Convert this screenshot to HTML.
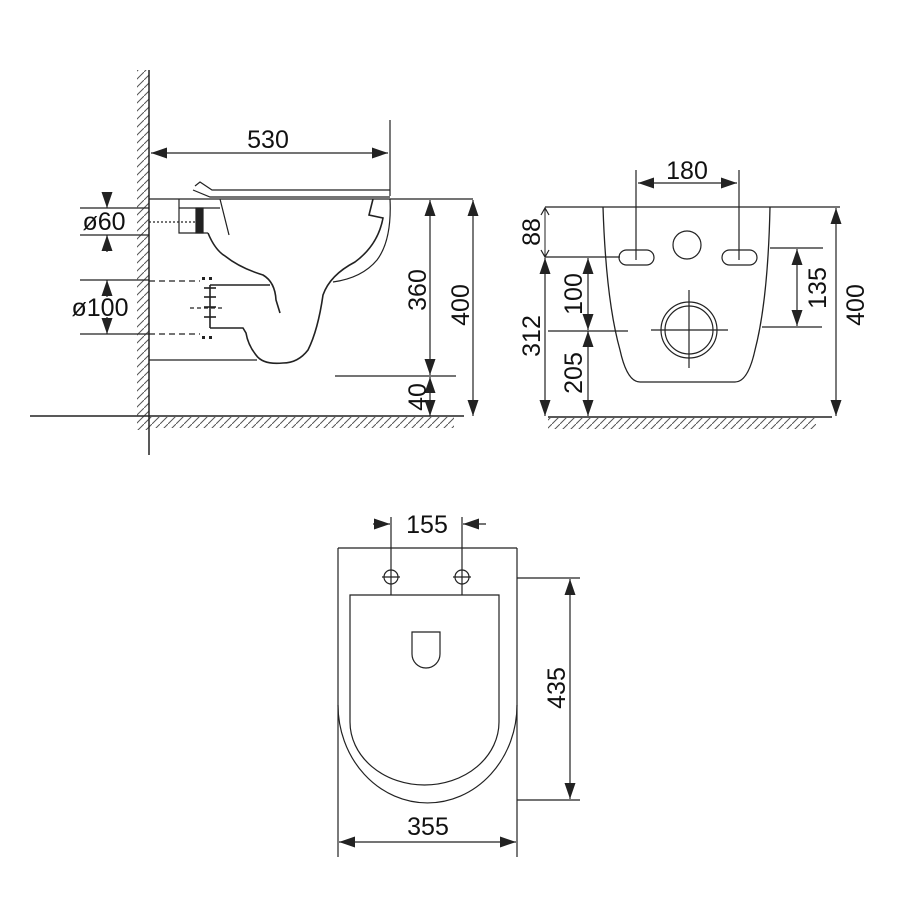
<!DOCTYPE html>
<html><head><meta charset="utf-8"><style>
html,body{margin:0;padding:0;background:#fff;}
svg{display:block;}
text{font-family:"Liberation Sans",Arial,sans-serif;font-size:25px;fill:#111;}
</style></head><body>
<svg width="900" height="900" viewBox="0 0 900 900" xmlns="http://www.w3.org/2000/svg">
<defs>
<marker id="a" viewBox="0 0 16 11" refX="16" refY="5.5" markerWidth="16" markerHeight="11" markerUnits="userSpaceOnUse" orient="auto-start-reverse"><path d="M0,0 L16,5.5 L0,11 Z" fill="#222"/></marker>
<pattern id="hw" width="8" height="8" patternUnits="userSpaceOnUse"><path d="M0,8 L8,0" stroke="#555" stroke-width="1"/></pattern>
</defs>
<g stroke="#222" fill="none" stroke-width="1.2">
<!-- SIDE VIEW -->
<rect x="137" y="70" width="12" height="360" fill="url(#hw)" stroke="none"/>
<rect x="149" y="417" width="305" height="11" fill="url(#hw)" stroke="none"/>
<line x1="149" y1="70" x2="149" y2="455" stroke-width="1.5"/>
<line x1="30" y1="416" x2="464" y2="416" stroke-width="1.5"/>
<line x1="390" y1="120" x2="390" y2="196"/>
<line x1="151" y1="153" x2="388" y2="153" marker-start="url(#a)" marker-end="url(#a)"/>
<path d="M195,186 L200,182 L212,190 L390,190"/>
<path d="M193,190 L210,197 L390,197"/>
<line x1="149" y1="199" x2="473" y2="199"/>
<path d="M179,199 L179,233 L208,233"/>
<rect x="196" y="208" width="7" height="25" fill="#222"/>
<line x1="179" y1="208" x2="220" y2="208"/>
<path d="M220,199 L229,235"/>
<line x1="149" y1="222" x2="195" y2="222" stroke-dasharray="2,2"/>
<path d="M208,233 Q215,250 225,256 Q240,268 263,275 Q275,282 276,300 L280,313" stroke-width="1.6"/>
<path d="M373,199 L369,215 L383,218 Q378,245 355,262 Q330,275 323,295 Q318,330 308,350 Q298,363 283,363 Q263,365 256,355 Q248,345 246,333 L243,328 L210,328" stroke-width="1.6"/>
<path d="M390,199 Q392,240 377,260 Q362,278 333,282"/>
<line x1="210" y1="285" x2="270" y2="285" stroke-width="1.4"/>
<line x1="210" y1="285" x2="210" y2="328" stroke-width="1.6"/>
<g stroke-width="1.6"><line x1="204" y1="288" x2="216" y2="288"/><line x1="204" y1="297" x2="216" y2="297"/><line x1="204" y1="307" x2="216" y2="307"/><line x1="204" y1="317" x2="216" y2="317"/></g>
<g fill="#222" stroke="none"><rect x="202" y="277" width="3" height="3"/><rect x="209" y="277" width="3" height="3"/><rect x="202" y="336" width="3" height="3"/><rect x="209" y="336" width="3" height="3"/></g>
<line x1="190" y1="308" x2="222" y2="308" stroke-dasharray="4,3"/>
<line x1="149" y1="281" x2="200" y2="281" stroke-dasharray="6,4"/>
<line x1="149" y1="334" x2="200" y2="334" stroke-dasharray="6,4"/>
<line x1="149" y1="360" x2="257" y2="360"/>
<line x1="80" y1="208" x2="149" y2="208"/>
<line x1="80" y1="235" x2="149" y2="235"/>
<line x1="107" y1="192" x2="107" y2="208" marker-end="url(#a)"/>
<line x1="107" y1="252" x2="107" y2="235" marker-end="url(#a)"/>
<line x1="80" y1="280" x2="149" y2="280"/>
<line x1="80" y1="334" x2="149" y2="334"/>
<line x1="107" y1="297" x2="107" y2="280" marker-end="url(#a)"/>
<line x1="107" y1="317" x2="107" y2="334" marker-end="url(#a)"/>
<line x1="335" y1="376" x2="456" y2="376"/>
<line x1="430" y1="200" x2="430" y2="375" marker-start="url(#a)" marker-end="url(#a)"/>
<line x1="430" y1="377" x2="430" y2="416" marker-start="url(#a)" marker-end="url(#a)"/>
<line x1="473" y1="200" x2="473" y2="416" marker-start="url(#a)" marker-end="url(#a)"/>

<!-- FRONT VIEW -->
<rect x="548" y="418" width="268" height="11" fill="url(#hw)" stroke="none"/>
<line x1="548" y1="417" x2="832" y2="417" stroke-width="1.5"/>
<line x1="545" y1="207" x2="840" y2="207"/>
<path d="M603,207 Q606,300 620,350 Q627,382 640,382 L735,382 Q748,382 755,350 Q768,300 770,207" stroke-width="1.3"/>
<rect x="619" y="250" width="35" height="15" rx="7.5"/>
<rect x="722" y="250" width="35" height="15" rx="7.5"/>
<circle cx="687" cy="245" r="14"/>
<circle cx="689" cy="330" r="28"/>
<circle cx="689" cy="330" r="24"/>
<line x1="651" y1="330" x2="728" y2="330"/>
<line x1="689" y1="290" x2="689" y2="368"/>
<line x1="636" y1="170" x2="636" y2="260"/>
<line x1="739" y1="170" x2="739" y2="260"/>
<line x1="638" y1="183" x2="737" y2="183" marker-start="url(#a)" marker-end="url(#a)"/>
<line x1="545" y1="209" x2="545" y2="256" stroke-width="1"/>
<path d="M541,250 L545,257 L549,250" />
<path d="M541,215 L545,208 L549,215" />
<line x1="545" y1="257" x2="620" y2="257"/>
<line x1="545" y1="258" x2="545" y2="416" marker-start="url(#a)" marker-end="url(#a)"/>
<line x1="588" y1="258" x2="588" y2="330" marker-start="url(#a)" marker-end="url(#a)"/>
<line x1="588" y1="331" x2="588" y2="416" marker-start="url(#a)" marker-end="url(#a)"/>
<line x1="548" y1="331" x2="628" y2="331"/>
<line x1="770" y1="248" x2="823" y2="248"/>
<line x1="762" y1="327" x2="822" y2="327"/>
<line x1="797" y1="249" x2="797" y2="326" marker-start="url(#a)" marker-end="url(#a)"/>
<line x1="836" y1="208" x2="836" y2="416" marker-start="url(#a)" marker-end="url(#a)"/>

<!-- TOP VIEW -->
<line x1="338" y1="548" x2="517" y2="548"/>
<line x1="338" y1="548" x2="338" y2="857"/>
<line x1="517" y1="548" x2="517" y2="857"/>
<path d="M338,705 A89.5,98 0 0 0 517,705"/>
<path d="M350,595 L499,595 L499,722 A74.5,63 0 0 1 350,722 Z"/>
<path d="M412,632 L440,632 L440,654 A14,14 0 0 1 412,654 Z"/>
<circle cx="391" cy="577" r="7"/>
<circle cx="462" cy="577" r="7"/>
<line x1="382" y1="577" x2="400" y2="577"/>
<line x1="453" y1="577" x2="471" y2="577"/>
<line x1="391" y1="517" x2="391" y2="595"/>
<line x1="462" y1="517" x2="462" y2="595"/>
<line x1="373" y1="524" x2="390" y2="524" marker-end="url(#a)"/>
<line x1="486" y1="524" x2="463" y2="524" marker-end="url(#a)"/>
<line x1="517" y1="578" x2="580" y2="578"/>
<line x1="517" y1="800" x2="580" y2="800"/>
<line x1="570" y1="579" x2="570" y2="799" marker-start="url(#a)" marker-end="url(#a)"/>
<line x1="339" y1="842" x2="516" y2="842" marker-start="url(#a)" marker-end="url(#a)"/>
</g>
<text x="268" y="148" text-anchor="middle">530</text>
<text x="104" y="230" text-anchor="middle">ø60</text>
<text x="100" y="316" text-anchor="middle">ø100</text>
<text transform="translate(426,290) rotate(-90)" text-anchor="middle">360</text>
<text transform="translate(426,397) rotate(-90)" text-anchor="middle">40</text>
<text transform="translate(469,305) rotate(-90)" text-anchor="middle">400</text>
<text x="687" y="179" text-anchor="middle">180</text>
<text transform="translate(540,232) rotate(-90)" text-anchor="middle">88</text>
<text transform="translate(540,336) rotate(-90)" text-anchor="middle">312</text>
<text transform="translate(582,294) rotate(-90)" text-anchor="middle">100</text>
<text transform="translate(582,373) rotate(-90)" text-anchor="middle">205</text>
<text transform="translate(826,288) rotate(-90)" text-anchor="middle">135</text>
<text transform="translate(864,305) rotate(-90)" text-anchor="middle">400</text>
<text x="427" y="533" text-anchor="middle">155</text>
<text transform="translate(565,688) rotate(-90)" text-anchor="middle">435</text>
<text x="428" y="835" text-anchor="middle">355</text>
</svg>
</body></html>
